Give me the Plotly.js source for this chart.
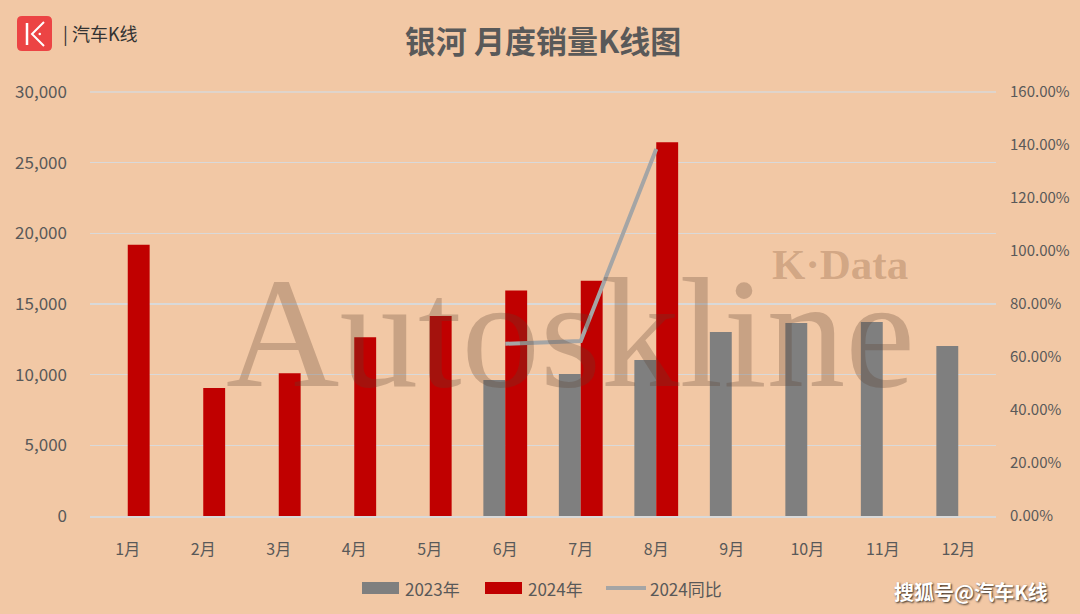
<!DOCTYPE html>
<html><head><meta charset="utf-8">
<script src="https://cdn.plot.ly/plotly-3.0.1.min.js"></script>
<style>html,body{margin:0;padding:0;background:#F2C8A5;}#c{width:1080px;height:614px;}</style>
</head><body><div id="c"></div>
<script>
const months = ['1月','2月','3月','4月','5月','6月','7月','8月','9月','10月','11月','12月'];
const sales2023 = [null,null,null,null,null,9620,10050,11040,13020,13660,13730,12030];
const sales2024 = [19200,9050,10100,12650,14150,15950,16650,26450,null,null,null,null];
const yoyMonths = ['6月','7月','8月'];
const yoy2024 = [0.65,0.66,1.385];
const leftTicks = [0,5000,10000,15000,20000,25000,30000];
const rightTicks = [0,0.2,0.4,0.6,0.8,1.0,1.2,1.4,1.6];

const W=1080,H=614,L=90,R=84,T=92,B=98;
const PW=W-L-R, PH=H-T-B;
const px=x=>(x-L)/PW, py=y=>(H-B-y)/PH;
const font='"Noto Sans CJK SC","Noto Sans",sans-serif';
const txt='#595959';

const traces=[
 {type:'bar',name:'2023年',x:months,y:sales2023,marker:{color:'#7F7F7F'},hoverinfo:'skip'},
 {type:'bar',name:'2024年',x:months,y:sales2024,marker:{color:'#C00000'},hoverinfo:'skip'},
 {type:'scatter',mode:'lines',name:'2024同比',x:yoyMonths,y:yoy2024,yaxis:'y2',line:{color:'#A5A5A5',width:4},hoverinfo:'skip'}
];

function rr(x0,y0,x1,y1,r){
 const P=(x,y)=>px(x).toFixed(5)+','+py(y).toFixed(5);
 return 'M'+P(x0+r,y0)+' L'+P(x1-r,y0)+' Q'+P(x1,y0)+' '+P(x1,y0+r)+' L'+P(x1,y1-r)+' Q'+P(x1,y1)+' '+P(x1-r,y1)+
  ' L'+P(x0+r,y1)+' Q'+P(x0,y1)+' '+P(x0,y1-r)+' L'+P(x0,y0+r)+' Q'+P(x0,y0)+' '+P(x0+r,y0)+' Z';
}
const shapes=[
 {type:'line',xref:'paper',yref:'paper',x0:0,x1:1,y0:1,y1:1,line:{color:'#D9D9D9',width:1.5},layer:'below'},
 {type:'path',xref:'paper',yref:'paper',path:rr(17,16,52,51,5),fillcolor:'#EC4444',line:{width:0}},
 {type:'line',xref:'paper',yref:'paper',x0:px(27),x1:px(27),y0:py(23),y1:py(45),line:{color:'white',width:2.5}},
 {type:'path',xref:'paper',yref:'paper',path:'M'+px(44)+','+py(22)+' L'+px(32)+','+py(34)+' L'+px(44)+','+py(46),line:{color:'white',width:2}},
 {type:'circle',xref:'paper',yref:'paper',x0:px(38.5),x1:px(41),y0:py(32.7),y1:py(35.2),fillcolor:'white',line:{width:0}},
 // custom legend
 {type:'rect',xref:'paper',yref:'paper',x0:px(362),x1:px(399),y0:py(582),y1:py(594),fillcolor:'#7F7F7F',line:{width:0}},
 {type:'rect',xref:'paper',yref:'paper',x0:px(485),x1:px(522),y0:py(582),y1:py(594),fillcolor:'#C00000',line:{width:0}},
 {type:'line',xref:'paper',yref:'paper',x0:px(606),x1:px(646),y0:py(588),y1:py(588),line:{color:'#A5A5A5',width:4}}
];
const annotations=[
 {text:'Autoskline',xref:'paper',yref:'paper',x:px(570),y:py(333),xanchor:'center',yanchor:'middle',showarrow:false,
  font:{family:'"Liberation Serif",serif',size:157,color:'rgba(95,65,45,0.28)'}},
 {text:'K·Data',xref:'paper',yref:'paper',x:px(840),y:py(264),xanchor:'center',yanchor:'middle',showarrow:false,
  font:{family:'"Liberation Serif",serif',size:43,weight:'bold',color:'rgba(140,95,65,0.32)'}},
 {text:'| 汽车K线',xref:'paper',yref:'paper',x:px(61),y:py(33),xanchor:'left',yanchor:'middle',showarrow:false,
  font:{family:font,size:18,color:'#333333'}},
 {text:'2023年',xref:'paper',yref:'paper',x:px(403),y:py(588),xanchor:'left',yanchor:'middle',showarrow:false,font:{family:font,size:17,color:txt}},
 {text:'2024年',xref:'paper',yref:'paper',x:px(526),y:py(588),xanchor:'left',yanchor:'middle',showarrow:false,font:{family:font,size:17,color:txt}},
 {text:'2024同比',xref:'paper',yref:'paper',x:px(648),y:py(588),xanchor:'left',yanchor:'middle',showarrow:false,font:{family:font,size:17,color:txt}},
 {text:'搜狐号@汽车K线',xref:'paper',yref:'paper',x:px(971),y:py(591),xanchor:'center',yanchor:'middle',showarrow:false,
  font:{family:font,size:20,weight:'bold',color:'white',shadow:'1px 1px 2px rgba(0,0,0,0.8)'}}
];

const layout={
 width:W,height:H,margin:{l:L,r:R,t:T,b:B},
 paper_bgcolor:'#F2C8A5',plot_bgcolor:'#F2C8A5',
 title:{text:'<b>银河 月度销量K线图</b>',x:0.5,xref:'paper',xanchor:'center',y:1-42/H,yanchor:'middle',
  font:{family:font,size:31,color:txt}},
 barmode:'group',bargap:0.42,bargroupgap:0,showlegend:false,
 xaxis:{type:'category',categoryarray:months,tickfont:{family:font,size:16,color:txt},ticks:'',showgrid:false,
  showline:true,linecolor:'#D9D9D9',linewidth:1.5,ticklabelstandoff:18},
 yaxis:{range:[0,30000],tickvals:leftTicks,tickformat:',d',tickfont:{family:font,size:17,color:txt},
  gridcolor:'#D9D9D9',gridwidth:1.5,zeroline:false,showline:false,ticks:'',ticklabelstandoff:22},
 yaxis2:{range:[0,1.6],tickvals:rightTicks,tickformat:'.2%',overlaying:'y',side:'right',showgrid:false,zeroline:false,
  tickfont:{family:font,size:15,color:txt},ticks:'',ticklabelstandoff:13},
 shapes:shapes,annotations:annotations
};
Plotly.newPlot('c',traces,layout,{staticPlot:true,displayModeBar:false});
</script></body></html>
